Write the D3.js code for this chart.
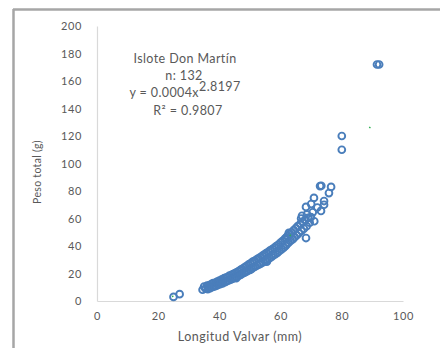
<!DOCTYPE html>
<html><head><meta charset="utf-8">
<script src="https://cdn.jsdelivr.net/npm/d3@7"></script>
<style>body{margin:0;background:#fff}svg{display:block}</style>
</head><body>
<svg id="c" width="440" height="348"></svg>
<script>
const longitud = [25,27,34.5,35,35.5,36,36.2,36.5,36.8,37,37.5,37.8,38,38.4,38.8,39,39.3,39.6,40,40.2,40.5,40.8,41,41.3,41.6,42,42.2,42.5,42.8,43,43.3,43.6,44,44.2,44.5,44.8,45,45.3,45.5,45.6,46,46.2,46.5,46.8,47,47.3,47.6,48,48.2,48.5,48.8,49,49.3,49.6,50,50.2,50.5,50.8,51,51.3,51.6,52,52.3,52.6,53,53.3,53.6,54,54.3,54.6,55,55.3,55.5,55.6,56,56.3,56.6,57,57.3,57.6,58,58.3,58.6,59,59.3,59.6,60,60.3,60.6,61,61.3,61.6,61.8,62,62.3,62.6,63,63.3,63.6,64,64.3,64.6,65,65.3,65.6,66,66.4,66.8,67.2,67.6,68,68.5,69,62.7,66.7,69.9,73.2,68.3,74.2,74.2,70.9,75.8,72.9,73.3,76.5,68.3,67,68.6,70.5,71,69.5,72,70,80,80,91.5,92.2];
const peso = [3,5,8.2,10.4,9.0,11.2,8.6,10.0,11.6,9.4,12.4,10.2,13.0,10.6,13.4,11.2,14.2,11.8,14.8,12.2,13.6,15.8,12.8,15.0,16.6,13.8,17.0,14.6,17.6,15.0,18.4,15.6,19.0,16.0,19.6,16.8,20.2,17.4,16.6,20.8,18.0,21.6,18.6,22.4,19.2,23.2,20.0,24.2,20.6,24.8,21.4,25.6,22.0,26.6,22.6,27.4,23.4,28.4,24.2,29.0,25.0,30.0,25.8,30.8,26.6,31.8,27.4,32.8,28.2,33.8,29.0,34.8,28.6,30.2,35.8,31.0,36.8,32.0,37.8,33.2,38.8,34.0,40.0,35.2,41.0,36.4,42.4,37.6,43.6,38.8,45.0,40.0,46.2,41.2,47.4,42.4,48.6,43.8,50.0,45.0,51.6,46.4,53.0,47.8,54.4,49.4,56.0,51.0,57.6,52.6,59.0,54.4,60.4,49.5,60,61,65.5,68.4,70,72.7,75,78.5,83.6,83.8,83,45.8,62,63,64.5,58,57,68,70.5,120,110,172,172];
const xTicks = [0,20,40,60,80,100];
const yTicks = [0,20,40,60,80,100,120,140,160,180,200];
const coefA = 0.0004, coefB = 2.8197;
const annot = ["Islote Don Martín","n: 132"];

const svg = d3.select("#c");
const font = "Lato, 'Open Sans', sans-serif";
const txt = "#595959";

// frame
svg.append("line").attr("x1",13).attr("x2",440).attr("y1",9.5).attr("y2",9.5).attr("stroke","#a6a6a6").attr("stroke-width",2.5);
svg.append("line").attr("x1",13.5).attr("x2",13.5).attr("y1",9).attr("y2",348).attr("stroke","#a6a6a6").attr("stroke-width",2.5);

const x = d3.scaleLinear().domain([0,100]).range([97,403]);
const y = d3.scaleLinear().domain([0,200]).range([301,26]);

const xa = svg.append("g").attr("transform","translate(0,301)")
  .call(d3.axisBottom(x).tickValues(xTicks).tickSize(0).tickPadding(11));
const ya = svg.append("g").attr("transform","translate(97,0)")
  .call(d3.axisLeft(y).tickValues(yTicks).tickSize(0).tickPadding(15));
[xa,ya].forEach(a=>{
  a.select(".domain").attr("stroke","#d9d9d9").attr("stroke-width",1.2);
  a.selectAll("text").attr("fill",txt).attr("font-family",font).attr("font-size",11).attr("letter-spacing",0.6);
});

// points
svg.append("g").selectAll("circle").data(longitud.map((d,i)=>[d,peso[i]]))
  .join("circle").attr("cx",d=>x(d[0])).attr("cy",d=>y(d[1])).attr("r",3.4)
  .attr("fill","none").attr("stroke","#4a7ebb").attr("stroke-width",1.9);

// trendline (sparse dotted)
const tx = d3.range(24.5, 92.01, 0.5);
svg.append("path").datum(tx)
  .attr("d", d3.line().x(d=>x(d)).y(d=>y(coefA*Math.pow(d,coefB))))
  .attr("fill","none").attr("stroke","#2eb04f").attr("stroke-width",1.5)
  .attr("stroke-dasharray","1.5,133");

// annotation
const ag = svg.append("g").attr("fill",txt).attr("font-family",font).attr("font-size",12.5).attr("text-anchor","middle").attr("letter-spacing",0.4);
ag.append("text").attr("x",185).attr("y",63).text(annot[0]);
ag.append("text").attr("x",184).attr("y",80).text(annot[1]);
const eq = ag.append("text").attr("x",185).attr("y",97);
eq.append("tspan").text("y = " + coefA.toFixed(4) + "x");
eq.append("tspan").attr("dy",-6).text(coefB.toFixed(4));
ag.append("text").attr("x",188).attr("y",115).text("R² = 0.9807");

// axis titles
svg.append("text").attr("x",240).attr("y",341).attr("text-anchor","middle").attr("letter-spacing",0.5)
  .attr("fill",txt).attr("font-family",font).attr("font-size",12.5).text("Longitud Valvar (mm)");
svg.append("text").attr("transform","translate(41,172) rotate(-90)").attr("text-anchor","middle")
  .attr("fill",txt).attr("font-family",font).attr("font-size",10.5).attr("letter-spacing",0.3).text("Peso total (g)");
</script>
</body></html>
